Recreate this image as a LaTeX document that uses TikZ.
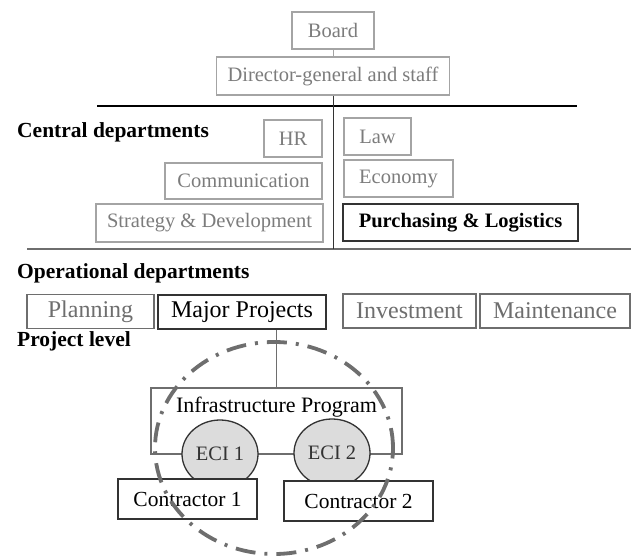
\documentclass[tikz,border=0pt]{standalone}
\usepackage{fontspec}
\setmainfont{Liberation Serif}
\usetikzlibrary{shapes.geometric}
\definecolor{lightline}{HTML}{A4A4A4}
\definecolor{lighttext}{HTML}{7C7C7C}
\definecolor{midline}{HTML}{6E6E6E}
\definecolor{darkline}{HTML}{333333}
\definecolor{eciFill}{HTML}{DCDCDC}
\begin{document}
\begin{tikzpicture}[x=1pt, y=-1pt,
    unit/.style={rectangle, draw=lightline, line width=1.3pt, text=lighttext, fill=white,
      inner sep=0pt, font=\fontsize{20.5}{24}\selectfont},
    opunit/.style={rectangle, draw=midline, line width=1.3pt, text=midline, fill=white,
      inner sep=0pt, minimum height=34, font=\fontsize{24}{28}\selectfont},
    keyunit/.style={rectangle, draw=darkline, line width=1.6pt, text=black, fill=white,
      inner sep=0pt},
    eci/.style={ellipse, draw=darkline, line width=1.3pt, fill=eciFill, inner sep=0pt,
      text=darkline, minimum width=76, minimum height=68, font=\fontsize{20.5}{24}\selectfont},
    level/.style={anchor=base west, inner sep=0pt, font=\bfseries\fontsize{21.5}{25}\selectfont},
    link/.style={draw=darkline, line width=1pt},
    scopeline/.style={draw=midline, line width=3.8pt,
      dash pattern=on 20pt off 9pt on 3pt off 9pt}]
  \useasboundingbox (0,0) rectangle (631,557);
  % Top management
  \node (board) [unit, minimum width=82, minimum height=37] at (333, 30.5) {Board};
  \node (director) [unit, minimum width=233, minimum height=38] at (333, 76) {Director-general and staff};
  % Central departments
  \node (central) [level] at (17, 137) {Central departments};
  \node (hr) [unit, minimum width=58, minimum height=37] at (293, 138.5) {HR};
  \node (law) [unit, minimum width=67, minimum height=37] at (377.5, 136.5) {Law};
  \node (comm) [unit, minimum width=157, minimum height=36] at (243.5, 181) {Communication};
  \node (economy) [unit, minimum width=109, minimum height=37] at (398.5, 178.5) {Economy};
  \node (strategy) [unit, minimum width=227, minimum height=38] at (209.5, 223) {Strategy \& Development};
  \node (purchasing) [keyunit, minimum width=235, minimum height=37,
    font=\bfseries\fontsize{20.5}{24}\selectfont] at (460.5, 222.5) {Purchasing \& Logistics};
  % Operational departments
  \node (operational) [level] at (17, 278) {Operational departments};
  \node (planning) [opunit, minimum width=127] at (90.5, 311.5) {Planning};
  \node (major) [keyunit, minimum width=168, minimum height=34,
    font=\fontsize{24}{28}\selectfont] at (242, 312) {Major Projects};
  \node (investment) [opunit, minimum width=133] at (409.5, 311) {Investment};
  \node (maintenance) [opunit, minimum width=150] at (555, 311) {Maintenance};
  % Project level
  \node (project) [level] at (17, 346) {Project level};
  \node (program) [keyunit, line width=1.3pt, draw=midline, minimum width=251, text height=24, text depth=42,
    font=\fontsize{22}{26}\selectfont] at (276.5, 421) {Infrastructure Program};
  \node (eci1) [eci] at (220, 454) {ECI 1};
  \node (eci2) [eci] at (332, 453) {ECI 2};
  \node (contractor1) [keyunit, line width=1.3pt, minimum width=139, minimum height=40,
    font=\fontsize{21.5}{25}\selectfont] at (187.5, 499) {Contractor 1};
  \node (contractor2) [keyunit, line width=1.3pt, minimum width=149, minimum height=40,
    font=\fontsize{21.5}{25}\selectfont] at (358.5, 501) {Contractor 2};
  % Dividers
  \coordinate (upperL) at (97, 106);
  \coordinate (upperR) at (577, 106);
  \coordinate (lowerL) at (27, 249);
  \coordinate (lowerR) at (631, 249);
  \coordinate (split) at (333, 249);
  \draw[draw=black, line width=1.4pt] (upperL) -- (upperR);
  \draw[draw=midline, line width=1.4pt] (lowerL) -- (lowerR);
  % Links
  \draw[link, draw=lightline] (board) -- (director);
  \draw[link] (director) -- (split);
  \draw[link, draw=midline] (major.south -| program.north) -- (program.north);
  % Project scope
  \coordinate (scope) at (274, 448);
  \draw[scopeline] (scope) ellipse [x radius=119pt, y radius=106pt];
\end{tikzpicture}
\end{document}
